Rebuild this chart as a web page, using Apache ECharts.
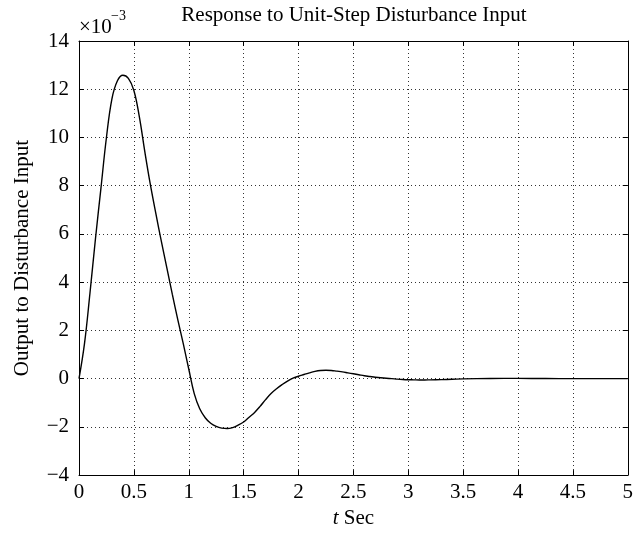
<!DOCTYPE html>
<html>
<head>
<meta charset="utf-8">
<script src="https://cdn.jsdelivr.net/npm/echarts@6/dist/echarts.min.js"></script>
<style>html,body{margin:0;padding:0;background:#fff}#c{width:636px;height:534px}</style>
</head>
<body>
<div id="c"></div>
<script>
// time (s)
var timeSec = [0, 0.05, 0.1, 0.15, 0.2, 0.25, 0.3, 0.35, 0.4, 0.45, 0.5, 0.55, 0.6, 0.65, 0.7, 0.75, 0.8, 0.85, 0.9, 0.95, 1.0, 1.05, 1.1, 1.15, 1.2, 1.25, 1.3, 1.35, 1.4, 1.45, 1.5, 1.55, 1.6, 1.65, 1.7, 1.75, 1.8, 1.85, 1.9, 1.95, 2.0, 2.05, 2.1, 2.15, 2.2, 2.25, 2.3, 2.35, 2.4, 2.45, 2.5, 2.55, 2.6, 2.65, 2.7, 2.75, 2.8, 2.85, 2.9, 2.95, 3.0, 3.05, 3.1, 3.15, 3.2, 3.3, 3.4, 3.5, 3.75, 4.0, 4.25, 4.5, 4.75, 5.0];
// output (x 10^-3)
var outputE3 = [0, 1.45, 3.55, 5.8, 7.9, 10.0, 11.6, 12.35, 12.58, 12.45, 11.95, 10.85, 9.4, 8.05, 6.85, 5.7, 4.6, 3.5, 2.45, 1.45, 0.4, -0.62, -1.25, -1.62, -1.85, -1.98, -2.05, -2.07, -2.03, -1.93, -1.8, -1.6, -1.4, -1.15, -0.87, -0.62, -0.42, -0.25, -0.1, 0.02, 0.1, 0.17, 0.24, 0.3, 0.34, 0.35, 0.34, 0.31, 0.28, 0.24, 0.2, 0.16, 0.12, 0.09, 0.06, 0.035, 0.015, 0, -0.02, -0.035, -0.045, -0.05, -0.055, -0.055, -0.05, -0.04, -0.025, -0.01, 0.005, 0.01, 0.005, 0, 0, 0];
var titleText = 'Response to Unit-Step Disturbance Input';
var yName = 'Output to Disturbance Input';
var xMin = 0, xMax = 5, xStep = 0.5;
var yMin = -4, yMax = 14, yStep = 2;

var FONT = '"Liberation Serif", "Times New Roman", serif';
var FS = 21;
var data = timeSec.map(function (t, i) { return [t, outputE3[i]]; });
var chart = echarts.init(document.getElementById('c'), null, {renderer: 'canvas'});
var axisLineStyle = {color: '#000', width: 1};
var split = {show: true, lineStyle: {color: '#333', width: 1, type: [1, 3]}};
chart.setOption({
  animation: false,
  backgroundColor: '#fff',
  grid: {left: 79, right: 7, top: 41, bottom: 57, containLabel: false},
  xAxis: [{
    type: 'value', min: xMin, max: xMax, interval: xStep,
    axisLine: {show: true, lineStyle: axisLineStyle, onZero: false},
    axisTick: {show: true, inside: true, length: 5, lineStyle: axisLineStyle},
    axisLabel: {fontFamily: FONT, fontSize: FS, color: '#000', margin: 7},
    splitLine: split,
    name: '{i|t} Sec', nameLocation: 'middle', nameGap: 29,
    nameTextStyle: {fontFamily: FONT, fontSize: FS, color: '#000',
      rich: {i: {fontFamily: FONT, fontSize: FS, fontStyle: 'italic', color: '#000'}}}
  }, {
    type: 'value', position: 'top', min: xMin, max: xMax, interval: xStep,
    axisLine: {show: true, lineStyle: axisLineStyle, onZero: false},
    axisTick: {show: true, inside: true, length: 5, lineStyle: axisLineStyle},
    axisLabel: {show: false}, splitLine: {show: false}
  }],
  yAxis: [{
    type: 'value', min: yMin, max: yMax, interval: yStep,
    axisLine: {show: true, lineStyle: axisLineStyle, onZero: false},
    axisTick: {show: true, inside: true, length: 5, lineStyle: axisLineStyle},
    axisLabel: {fontFamily: FONT, fontSize: FS, color: '#000', margin: 10,
      formatter: function (v) { return String(v).replace('-', '\u2212'); }},
    splitLine: split,
    name: yName, nameLocation: 'middle', nameGap: 46, nameRotate: 90,
    nameTextStyle: {fontFamily: FONT, fontSize: FS, color: '#000'}
  }, {
    type: 'value', position: 'right', min: yMin, max: yMax, interval: yStep,
    axisLine: {show: true, lineStyle: axisLineStyle, onZero: false},
    axisTick: {show: true, inside: true, length: 5, lineStyle: axisLineStyle},
    axisLabel: {show: false}, splitLine: {show: false}
  }],
  graphic: [
    {type: 'text', x: 354, y: 5, style: {text: titleText, font: FS + 'px ' + FONT, fill: '#000', textAlign: 'center'}},
    {type: 'text', left: 79, top: 17, style: {text: '\u00d710', font: FS + 'px ' + FONT, fill: '#000'}},
    {type: 'text', left: 111, top: 9, style: {text: '\u22123', font: '14px ' + FONT, fill: '#000'}}
  ],
  series: [{
    type: 'line', data: data, xAxisIndex: 0, yAxisIndex: 0,
    showSymbol: false, smooth: 0.4, clip: true,
    lineStyle: {color: '#000', width: 1.4}
  }]
});
</script>
</body>
</html>
